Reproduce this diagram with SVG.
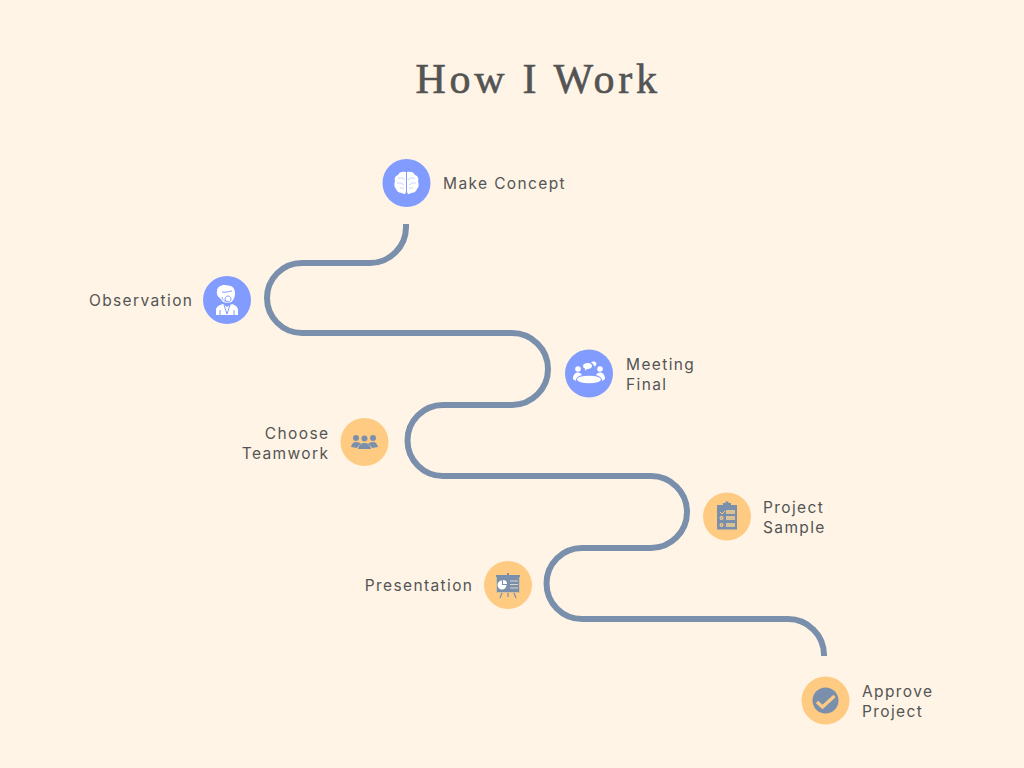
<svg xmlns="http://www.w3.org/2000/svg" width="1024" height="768" viewBox="0 0 1024 768">
<style>
.lbl{font-family:Inter,"Liberation Sans",sans-serif;font-size:15.500px;letter-spacing:1.38px;fill:#545454}
.e{text-anchor:end}
.blue{fill:#829bff}.or{fill:#ffcb83}
.w{fill:#fff}.s{fill:#7a8fac}.t{fill:#ffcb83}.tan{fill:#d9c196}
</style>
<rect width="1024" height="768" fill="#fff4e6"/>
<text x="538" y="93" text-anchor="middle" font-family="'Liberation Serif',serif" font-size="42" letter-spacing="3.7" fill="#545454" stroke="#545454" stroke-width=".6">How I Work</text>
<g id="connectors" fill="none" stroke="#7a8fac" stroke-width="6">
<path d="M406 224V227A36 36 0 0 1 370 263H302A35 35 0 0 0 302 333H512A36 36 0 0 1 512 405H443A35.500 35.500 0 0 0 443 476H651A36 36 0 0 1 651 548H582A35.500 35.500 0 0 0 582 619H788A36 36 0 0 1 824 655V656"/>
</g>
<g id="make-concept">
<circle class="blue" cx="406.500" cy="183" r="24"/>
<path class="w" d="M406 172C401 171 399 173 398 175C395 176 394 179 395 181C394 184 394 187 396 189C397 192 400 193 402 193C404 195 405.500 194 406 192ZM407 172C412 171 414 173 415 175C418 176 419 179 418 181C419 184 419 187 417 189C416 192 413 193 411 193C409 195 407.500 194 407 192Z"/>
<path d="M398 178h5l2 2M397 183h4l3 2M400 188h4M415 178h-5l-2 2M416 183h-4l-3 2M413 188h-4" stroke="#829bff" stroke-width=".6" stroke-opacity=".7" fill="none"/>
<text class="lbl" x="443" y="189">Make Concept</text>
</g>
<g id="observation">
<circle class="blue" cx="227" cy="300" r="24"/>
<path class="w" d="M217 291C217 287 222 284 227 285.500C232 285 235 288 235 293C235 299 232 303 228 303C225 303 222 302 221 299C218 297 216 294 217 291Z"/>
<path d="M222 292C226 293 229 291 232 291M228 296a3 3 0 1 0 .100 0M222 297C223 301 226 302 228 301" stroke="#829bff" stroke-width="1" fill="none"/>
<path class="w" d="M216 315V310C216 307 219 305 223 304L227 307L232 304C235 305 238 307 238 310V315Z"/>
<path d="M224 305L227 314L230 305M220 310V315M234 310V315" stroke="#829bff" stroke-width="1" fill="none"/>
<text class="lbl e" x="193.400" y="306">Observation</text>
</g>
<g id="meeting-final">
<circle class="blue" cx="589" cy="373.500" r="24"/>
<ellipse class="w" cx="589" cy="379.500" rx="12" ry="3.800"/>
<circle class="w" cx="578" cy="369" r="2.800"/>
<path class="w" d="M573 379C573 375 575 372.500 578 372.500C580 372.500 581 373.500 582 375C578 376 576 378 575.500 381Z"/>
<circle class="w" cx="600" cy="369" r="2.800"/>
<path class="w" d="M605 379C605 375 603 372.500 600 372.500C598 372.500 597 373.500 596 375C600 376 602 378 602.500 381Z"/>
<path class="w" d="M583 366C583 364 585 363 588 363C590 363 592 364 592 366C592 368 590 369 587.500 369L585 370.500L585 368.500C584 368.500 583 367.500 583 366Z"/>
<path class="w" d="M591 362.500C592 361 595 361 596 362.500C597 364 596 366 594.500 366L594.500 367.500C594 365 593 363.500 591 362.500Z"/>
<text class="lbl" x="626" y="370">Meeting</text>
<text class="lbl" x="626" y="389.500">Final</text>
</g>
<g id="choose-teamwork">
<circle class="or" cx="364.500" cy="442" r="24"/>
<circle class="s" cx="356" cy="438" r="3"/>
<circle class="s" cx="373" cy="438" r="3"/>
<path class="s" d="M351 447C352 443 354 442 356 442C359 442 360 443 361 444C359 445 358 446 357 448Z"/>
<path class="s" d="M378 447C377 443 375 442 373 442C370 442 369 443 368 444C370 445 371 446 372 448Z"/>
<circle class="s" cx="364.500" cy="438.500" r="3"/>
<path class="s" d="M358 449C359 444 362 443 364.500 443C367 443 370 444 371 449Z"/>
<text class="lbl e" x="329.400" y="439">Choose</text>
<text class="lbl e" x="329.400" y="458.500">Teamwork</text>
</g>
<g id="project-sample">
<circle class="or" cx="727" cy="516.500" r="24"/>
<rect class="s" x="717" y="505" width="20" height="24.500"/>
<rect class="s" x="723" y="503" width="8" height="3"/>
<rect class="s" x="725.500" y="501.500" width="3" height="3"/>
<path d="M720 512l2 2 3-3" fill="none" stroke="#ffcb83" stroke-width="1"/>
<circle class="t" cx="721.500" cy="518" r="2"/><circle class="t" cx="721.500" cy="525" r="2"/>
<circle class="s" cx="721.500" cy="518" r=".8"/><circle class="s" cx="721.500" cy="525" r=".8"/>
<rect class="tan" x="726" y="510" width="9" height="4"/>
<rect class="tan" x="726" y="516" width="9" height="4"/>
<rect class="tan" x="726" y="523" width="9" height="4"/>
<text class="lbl" x="763" y="513">Project</text>
<text class="lbl" x="763" y="532.500">Sample</text>
</g>
<g id="presentation">
<circle class="or" cx="508" cy="585" r="24"/>
<rect class="tan" x="496" y="576" width="24" height="17"/>
<rect class="s" x="497" y="577" width="22" height="15"/>
<rect class="s" x="496" y="575" width="24" height="2"/>
<rect class="s" x="507" y="573" width="2" height="3"/>
<path d="M502 593l-2 5M514 593l2 5M508 593v4" stroke="#7a8fac" stroke-width="1.200" fill="none"/>
<path class="w" d="M502 580.500a4.500 4.500 0 1 0 4.500 4.500h-4.500Z"/>
<path class="w" d="M503 580a4 4 0 0 1 4 4h-4Z"/>
<path d="M510 581h8M510 584.500h8M510 588h8" stroke="#dcd6c8" stroke-width="1" fill="none"/>
<text class="lbl e" x="473.400" y="591">Presentation</text>
</g>
<g id="approve-project">
<circle class="or" cx="825.500" cy="700.500" r="24"/>
<circle class="s" cx="825.500" cy="700.500" r="13"/>
<path d="M817 702l5.500 5 12-11" fill="none" stroke="#ffcb83" stroke-width="3.200"/>
<text class="lbl" x="862" y="697">Approve</text>
<text class="lbl" x="862" y="716.500">Project</text>
</g>
</svg>
